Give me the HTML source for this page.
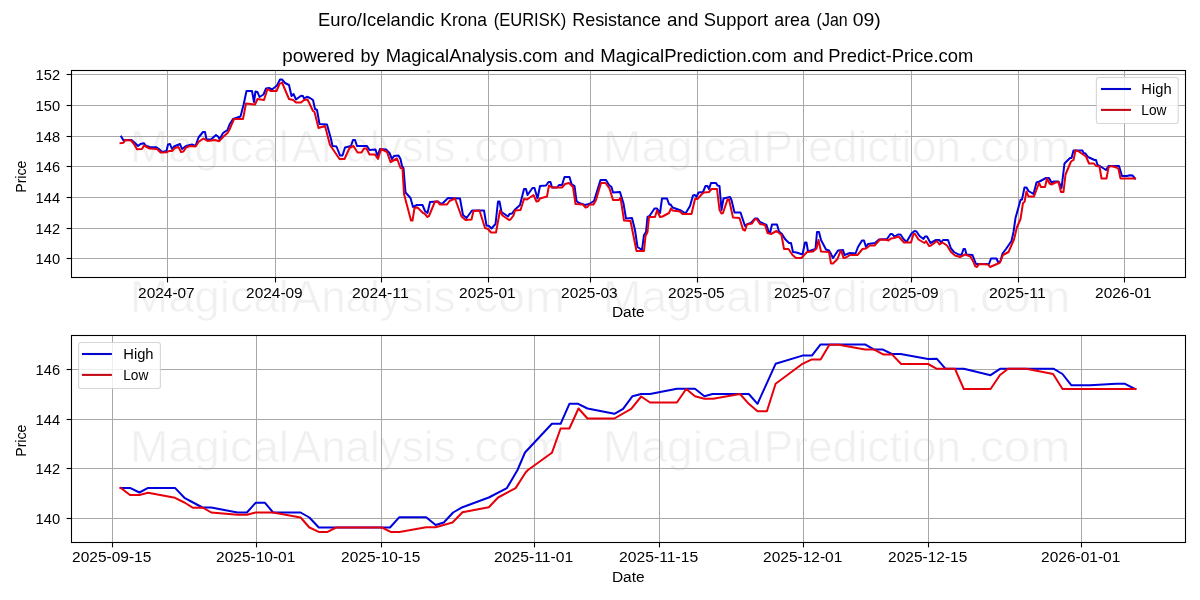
<!DOCTYPE html>
<html><head><meta charset="utf-8"><title>Euro/Icelandic Krona (EURISK) Resistance and Support area</title>
<style>html,body{margin:0;padding:0;background:#fff;}svg{display:block;will-change:transform;}text{font-family:"Liberation Sans",sans-serif;}</style></head><body>
<svg width="1200" height="600" viewBox="0 0 1200 600">
<rect x="0" y="0" width="1200" height="600" fill="#ffffff"/>
<text x="130.11" y="161.5" font-size="44.2" fill="#f0f0f0" stroke="#ffffff" stroke-width="0.6" textLength="158.97" lengthAdjust="spacingAndGlyphs">Magical</text>
<text x="291.83" y="161.5" font-size="44.2" fill="#f0f0f0" stroke="#ffffff" stroke-width="0.6" textLength="163.6" lengthAdjust="spacingAndGlyphs">Analysis</text>
<text x="460.78" y="161.5" font-size="44.2" fill="#f0f0f0" stroke="#ffffff" stroke-width="0.6" textLength="104.38" lengthAdjust="spacingAndGlyphs">.com</text>
<text x="602.97" y="161.5" font-size="44.2" fill="#f0f0f0" stroke="#ffffff" stroke-width="0.6" textLength="159.12" lengthAdjust="spacingAndGlyphs">Magical</text>
<text x="763.59" y="161.5" font-size="44.2" fill="#f0f0f0" stroke="#ffffff" stroke-width="0.6" textLength="197.48" lengthAdjust="spacingAndGlyphs">Prediction</text>
<text x="966.63" y="161.5" font-size="44.2" fill="#f0f0f0" stroke="#ffffff" stroke-width="0.6" textLength="103.78" lengthAdjust="spacingAndGlyphs">.com</text>
<text x="130.11" y="311.5" font-size="44.2" fill="#f0f0f0" stroke="#ffffff" stroke-width="0.6" textLength="158.97" lengthAdjust="spacingAndGlyphs">Magical</text>
<text x="291.83" y="311.5" font-size="44.2" fill="#f0f0f0" stroke="#ffffff" stroke-width="0.6" textLength="163.6" lengthAdjust="spacingAndGlyphs">Analysis</text>
<text x="460.78" y="311.5" font-size="44.2" fill="#f0f0f0" stroke="#ffffff" stroke-width="0.6" textLength="104.38" lengthAdjust="spacingAndGlyphs">.com</text>
<text x="602.97" y="311.5" font-size="44.2" fill="#f0f0f0" stroke="#ffffff" stroke-width="0.6" textLength="159.12" lengthAdjust="spacingAndGlyphs">Magical</text>
<text x="763.59" y="311.5" font-size="44.2" fill="#f0f0f0" stroke="#ffffff" stroke-width="0.6" textLength="197.48" lengthAdjust="spacingAndGlyphs">Prediction</text>
<text x="966.63" y="311.5" font-size="44.2" fill="#f0f0f0" stroke="#ffffff" stroke-width="0.6" textLength="103.78" lengthAdjust="spacingAndGlyphs">.com</text>
<text x="130.11" y="461.5" font-size="44.2" fill="#f0f0f0" stroke="#ffffff" stroke-width="0.6" textLength="158.97" lengthAdjust="spacingAndGlyphs">Magical</text>
<text x="291.83" y="461.5" font-size="44.2" fill="#f0f0f0" stroke="#ffffff" stroke-width="0.6" textLength="163.6" lengthAdjust="spacingAndGlyphs">Analysis</text>
<text x="460.78" y="461.5" font-size="44.2" fill="#f0f0f0" stroke="#ffffff" stroke-width="0.6" textLength="104.38" lengthAdjust="spacingAndGlyphs">.com</text>
<text x="602.97" y="461.5" font-size="44.2" fill="#f0f0f0" stroke="#ffffff" stroke-width="0.6" textLength="159.12" lengthAdjust="spacingAndGlyphs">Magical</text>
<text x="763.59" y="461.5" font-size="44.2" fill="#f0f0f0" stroke="#ffffff" stroke-width="0.6" textLength="197.48" lengthAdjust="spacingAndGlyphs">Prediction</text>
<text x="966.63" y="461.5" font-size="44.2" fill="#f0f0f0" stroke="#ffffff" stroke-width="0.6" textLength="103.78" lengthAdjust="spacingAndGlyphs">.com</text>
<line x1="167.50" y1="70.5" x2="167.50" y2="277.5" stroke="#a8a8a8" stroke-width="1"/>
<line x1="275.50" y1="70.5" x2="275.50" y2="277.5" stroke="#a8a8a8" stroke-width="1"/>
<line x1="381.50" y1="70.5" x2="381.50" y2="277.5" stroke="#a8a8a8" stroke-width="1"/>
<line x1="488.50" y1="70.5" x2="488.50" y2="277.5" stroke="#a8a8a8" stroke-width="1"/>
<line x1="590.50" y1="70.5" x2="590.50" y2="277.5" stroke="#a8a8a8" stroke-width="1"/>
<line x1="697.50" y1="70.5" x2="697.50" y2="277.5" stroke="#a8a8a8" stroke-width="1"/>
<line x1="803.50" y1="70.5" x2="803.50" y2="277.5" stroke="#a8a8a8" stroke-width="1"/>
<line x1="911.50" y1="70.5" x2="911.50" y2="277.5" stroke="#a8a8a8" stroke-width="1"/>
<line x1="1018.50" y1="70.5" x2="1018.50" y2="277.5" stroke="#a8a8a8" stroke-width="1"/>
<line x1="1124.50" y1="70.5" x2="1124.50" y2="277.5" stroke="#a8a8a8" stroke-width="1"/>
<line x1="71.5" y1="258.50" x2="1185.5" y2="258.50" stroke="#a8a8a8" stroke-width="1"/>
<line x1="71.5" y1="228.50" x2="1185.5" y2="228.50" stroke="#a8a8a8" stroke-width="1"/>
<line x1="71.5" y1="197.50" x2="1185.5" y2="197.50" stroke="#a8a8a8" stroke-width="1"/>
<line x1="71.5" y1="166.50" x2="1185.5" y2="166.50" stroke="#a8a8a8" stroke-width="1"/>
<line x1="71.5" y1="136.50" x2="1185.5" y2="136.50" stroke="#a8a8a8" stroke-width="1"/>
<line x1="71.5" y1="105.50" x2="1185.5" y2="105.50" stroke="#a8a8a8" stroke-width="1"/>
<line x1="71.5" y1="74.50" x2="1185.5" y2="74.50" stroke="#a8a8a8" stroke-width="1"/>
<clipPath id="c1"><rect x="71.5" y="70.5" width="1114.0" height="207.0"/></clipPath>
<g clip-path="url(#c1)" fill="none" stroke-width="2" stroke-linejoin="round" stroke-linecap="square">
<polyline points="121.2,136.5 123.5,140.5 128.0,140.0 131.5,140.0 135.0,143.0 138.0,146.0 140.5,144.0 144.0,143.2 145.5,145.5 149.5,147.0 156.0,147.2 159.0,149.0 162.0,152.0 166.5,151.0 168.0,144.5 170.0,144.0 172.0,149.0 174.0,146.5 180.0,144.0 182.0,149.0 186.0,146.0 192.0,144.5 195.5,146.0 198.5,137.5 203.0,132.0 205.0,132.0 206.5,139.5 211.0,139.5 216.0,135.0 218.5,137.0 219.5,139.5 223.0,133.0 227.5,130.0 229.5,124.5 233.0,119.0 240.5,116.5 243.5,105.0 246.5,91.0 252.0,91.0 254.0,102.0 255.5,91.5 257.5,92.0 259.5,97.0 263.5,94.5 266.0,88.5 269.0,88.0 272.0,89.5 277.0,85.5 280.0,79.5 282.0,79.5 285.0,83.0 289.0,85.0 291.5,96.0 293.5,94.0 296.0,99.5 301.0,95.8 303.0,96.0 304.0,98.5 307.0,96.8 310.0,98.0 313.0,100.0 315.0,109.0 317.0,110.0 319.5,124.0 327.0,124.5 331.0,139.0 332.5,146.0 336.5,146.5 340.0,155.5 342.5,155.5 345.0,147.5 351.0,146.0 353.0,140.0 355.0,140.0 357.0,146.0 367.0,146.0 369.5,150.0 375.5,149.5 377.5,156.0 380.0,149.0 386.0,149.5 389.5,153.0 392.0,159.0 394.0,156.0 398.5,155.5 400.5,159.0 402.0,166.0 403.5,168.0 405.5,192.5 410.5,198.0 413.0,207.0 417.0,205.0 422.5,205.0 425.0,211.0 427.5,213.0 430.0,202.0 438.0,201.5 441.0,204.0 443.0,203.0 448.0,198.0 460.0,198.5 463.0,215.0 466.5,218.0 472.0,210.5 484.0,210.5 486.5,225.5 489.0,226.0 491.5,228.5 495.5,224.0 498.0,201.5 499.5,201.5 501.5,212.0 508.0,216.5 509.5,214.0 512.0,213.5 514.5,210.0 520.0,205.0 524.0,189.0 526.0,189.0 527.5,195.0 532.5,188.0 534.5,188.0 537.5,198.5 540.0,186.0 546.0,185.5 548.5,182.0 550.5,182.0 552.0,187.5 557.0,187.5 559.0,185.0 562.0,185.0 564.5,177.0 569.5,177.0 571.5,184.0 574.5,186.0 576.5,201.0 579.0,203.0 585.0,205.0 589.0,204.0 594.0,201.0 600.5,180.0 606.0,180.0 609.0,185.0 611.5,187.0 613.0,192.5 620.0,192.0 623.5,203.5 626.0,218.5 632.0,218.0 635.0,230.0 637.5,247.0 642.0,250.0 644.0,235.0 646.0,232.0 647.5,217.0 649.5,216.0 654.5,208.5 657.0,208.5 660.0,213.0 662.0,198.5 667.0,198.5 669.0,204.0 671.0,205.0 672.5,207.5 681.0,210.5 685.5,213.5 690.0,206.0 693.0,195.5 695.0,195.0 696.5,197.0 698.5,192.5 703.0,192.0 705.5,186.0 707.5,186.0 709.0,189.0 711.0,183.0 716.0,183.0 717.5,185.5 719.5,186.0 721.5,210.0 723.5,198.5 730.0,197.0 731.5,200.0 734.5,212.5 740.5,212.5 745.0,226.0 747.5,224.0 751.0,223.0 755.0,218.5 757.5,218.5 760.0,222.0 766.5,225.0 769.0,233.0 770.0,233.0 772.0,224.5 777.0,224.5 779.0,231.5 782.0,234.0 785.0,239.0 789.0,243.0 791.0,243.0 793.0,252.0 796.5,252.5 802.5,254.5 805.0,242.5 806.5,242.5 808.0,251.5 811.0,250.5 815.5,249.0 817.0,232.0 819.0,232.0 821.0,240.0 826.0,249.5 829.0,250.5 830.5,253.0 833.0,258.0 838.0,250.5 843.0,250.0 844.5,255.0 850.0,253.0 855.5,253.5 858.0,247.0 862.0,240.5 864.0,240.5 866.0,247.0 868.0,244.0 875.0,243.0 879.0,239.5 887.0,239.0 890.5,234.0 892.0,234.0 894.5,236.5 898.0,234.5 900.5,234.5 903.5,239.0 906.5,242.0 911.5,233.5 914.5,231.0 916.5,231.5 919.5,236.0 923.5,239.0 925.0,236.5 927.0,236.5 930.5,243.0 936.0,240.0 939.5,240.0 941.0,242.5 943.0,240.0 948.0,240.0 951.0,248.5 954.0,252.0 958.5,254.5 961.5,255.0 963.5,249.0 965.0,249.0 966.5,254.5 972.5,255.0 976.0,264.0 989.0,264.0 991.0,258.5 996.5,258.5 998.5,263.0 1000.5,261.0 1002.5,253.5 1006.0,249.0 1011.5,241.0 1013.5,232.0 1015.5,218.0 1020.5,200.0 1022.0,199.5 1024.5,187.5 1026.5,187.5 1028.5,191.0 1033.5,194.0 1036.5,182.5 1039.5,181.5 1046.0,178.0 1049.0,178.0 1051.5,182.5 1054.0,181.5 1058.5,181.5 1061.5,188.0 1064.5,163.5 1070.0,158.0 1071.5,158.0 1073.5,150.5 1082.5,150.5 1083.5,153.0 1085.5,153.5 1088.0,157.0 1094.5,160.0 1096.0,160.0 1097.5,165.0 1100.5,166.5 1106.0,170.0 1108.5,166.0 1119.0,166.0 1122.0,176.0 1127.0,176.0 1130.0,175.3 1132.5,175.5 1135.0,178.5" stroke="#0000dc"/>
<polyline points="120.5,143.2 123.5,142.8 125.0,140.0 131.0,140.5 134.0,144.0 137.0,149.2 142.0,149.0 144.0,145.5 149.5,148.5 157.0,149.0 160.5,152.5 167.0,152.2 169.0,151.0 172.0,151.0 175.0,148.0 178.5,147.0 181.0,152.0 183.5,151.5 186.0,147.5 190.0,146.0 195.5,146.5 199.0,141.5 203.5,138.5 207.5,141.0 215.0,140.0 219.0,141.2 223.0,137.0 227.5,133.0 229.5,129.5 234.0,119.0 243.0,119.0 246.0,103.5 255.0,104.5 257.5,99.0 264.0,100.0 267.5,89.0 270.5,91.0 276.5,91.0 279.5,84.0 282.0,82.5 289.0,99.0 293.0,100.0 296.0,102.5 301.0,102.5 304.0,100.0 307.5,99.5 313.0,111.0 314.5,112.0 318.5,128.0 325.0,126.0 330.0,145.0 339.5,159.0 344.5,159.0 349.5,148.0 353.5,146.0 357.5,152.5 361.5,152.5 364.0,148.5 366.5,148.5 369.5,154.5 375.0,154.5 378.0,159.0 381.0,149.0 387.0,152.0 390.5,162.0 397.0,158.5 400.5,168.0 402.5,168.5 404.0,194.0 411.0,220.5 412.5,220.5 414.5,208.0 417.5,207.5 423.0,213.0 424.5,213.5 427.5,217.0 429.0,216.0 435.0,201.5 437.5,201.5 440.0,204.5 447.0,204.5 449.5,201.0 455.0,198.5 461.5,216.5 465.5,220.0 471.5,219.5 473.5,211.0 479.5,210.5 485.0,228.0 488.0,229.0 491.0,232.5 496.0,232.5 500.0,210.5 502.5,215.5 509.0,220.0 510.5,219.5 513.5,215.5 515.0,210.5 520.5,210.0 524.0,199.0 527.0,199.5 533.5,195.0 536.5,201.5 538.5,201.0 540.0,198.5 547.0,196.5 549.0,185.5 552.0,187.5 562.0,187.5 565.0,184.0 569.0,183.0 573.0,187.0 575.5,204.0 583.0,204.5 585.5,207.5 587.5,207.0 589.5,204.5 593.5,204.5 596.0,200.0 601.0,183.0 605.5,183.0 609.5,188.5 613.0,200.0 619.0,200.0 620.5,197.5 624.0,220.5 630.5,221.0 636.5,251.0 644.0,251.0 645.5,236.0 647.5,232.0 649.0,217.0 655.0,217.0 657.0,210.5 660.0,217.0 662.5,216.5 669.0,213.0 671.0,208.5 672.5,210.5 680.0,211.5 682.5,214.0 691.5,214.0 695.0,199.0 697.5,199.0 702.0,194.0 704.0,192.5 709.0,192.0 711.5,189.0 717.0,189.0 719.5,210.0 721.5,213.5 723.0,213.0 727.5,199.5 729.0,199.5 733.0,217.5 739.5,218.0 743.0,229.5 745.0,230.5 747.0,224.5 752.0,223.5 755.0,219.0 757.0,219.5 760.0,224.0 765.0,225.0 767.5,233.0 771.0,234.0 776.5,231.0 781.5,235.0 784.0,249.0 788.5,249.0 792.5,255.0 796.0,258.0 801.5,258.0 807.0,252.0 813.0,251.5 816.5,248.5 818.5,240.0 821.0,251.5 829.0,252.0 831.0,263.5 833.0,263.5 837.5,259.0 840.5,251.0 841.5,251.5 843.5,258.0 846.0,257.5 850.0,255.0 857.5,255.0 862.5,249.0 866.0,248.5 870.0,245.5 874.5,245.5 880.0,239.5 887.0,240.0 888.5,240.5 891.0,238.5 894.0,238.0 898.5,236.5 904.0,242.5 911.0,242.5 913.5,234.0 915.0,234.0 918.5,239.5 924.5,243.0 926.0,241.0 929.0,246.0 931.0,245.5 937.0,241.0 939.5,244.5 942.5,242.5 947.0,245.5 951.0,252.0 955.0,255.5 960.0,257.0 965.0,254.5 970.5,256.5 973.5,262.0 975.0,266.0 977.0,267.0 979.0,264.0 988.0,264.5 990.0,267.0 997.0,264.0 1000.0,262.5 1003.0,255.0 1008.5,252.0 1014.0,239.5 1017.0,227.0 1020.5,219.0 1023.0,203.0 1024.5,202.0 1026.5,191.5 1028.5,196.5 1034.0,196.5 1039.0,183.0 1041.0,187.0 1045.0,187.0 1047.0,178.5 1049.5,183.5 1051.5,184.5 1055.5,182.5 1058.5,182.0 1061.0,192.0 1063.5,192.0 1065.5,174.5 1071.0,161.5 1073.5,160.0 1075.5,150.5 1078.0,151.0 1086.0,156.5 1089.0,163.5 1094.0,163.5 1096.0,166.0 1099.5,166.5 1101.5,178.5 1106.5,178.5 1108.5,167.5 1111.0,166.0 1116.5,167.5 1118.5,169.0 1120.5,178.5 1135.0,178.5" stroke="#e6000c"/>
</g>
<rect x="71.5" y="70.5" width="1114.0" height="207.0" fill="none" stroke="#000" stroke-width="1.1"/>
<line x1="167.50" y1="277.5" x2="167.50" y2="282.4" stroke="#000" stroke-width="1.1"/>
<text x="138.10" y="297.7" font-size="14.7" fill="#000" textLength="56.6" lengthAdjust="spacingAndGlyphs">2024-07</text>
<line x1="275.50" y1="277.5" x2="275.50" y2="282.4" stroke="#000" stroke-width="1.1"/>
<text x="246.10" y="297.7" font-size="14.7" fill="#000" textLength="56.6" lengthAdjust="spacingAndGlyphs">2024-09</text>
<line x1="381.50" y1="277.5" x2="381.50" y2="282.4" stroke="#000" stroke-width="1.1"/>
<text x="352.10" y="297.7" font-size="14.7" fill="#000" textLength="56.6" lengthAdjust="spacingAndGlyphs">2024-11</text>
<line x1="488.50" y1="277.5" x2="488.50" y2="282.4" stroke="#000" stroke-width="1.1"/>
<text x="459.10" y="297.7" font-size="14.7" fill="#000" textLength="56.6" lengthAdjust="spacingAndGlyphs">2025-01</text>
<line x1="590.50" y1="277.5" x2="590.50" y2="282.4" stroke="#000" stroke-width="1.1"/>
<text x="561.10" y="297.7" font-size="14.7" fill="#000" textLength="56.6" lengthAdjust="spacingAndGlyphs">2025-03</text>
<line x1="697.50" y1="277.5" x2="697.50" y2="282.4" stroke="#000" stroke-width="1.1"/>
<text x="668.10" y="297.7" font-size="14.7" fill="#000" textLength="56.6" lengthAdjust="spacingAndGlyphs">2025-05</text>
<line x1="803.50" y1="277.5" x2="803.50" y2="282.4" stroke="#000" stroke-width="1.1"/>
<text x="774.10" y="297.7" font-size="14.7" fill="#000" textLength="56.6" lengthAdjust="spacingAndGlyphs">2025-07</text>
<line x1="911.50" y1="277.5" x2="911.50" y2="282.4" stroke="#000" stroke-width="1.1"/>
<text x="882.10" y="297.7" font-size="14.7" fill="#000" textLength="56.6" lengthAdjust="spacingAndGlyphs">2025-09</text>
<line x1="1018.50" y1="277.5" x2="1018.50" y2="282.4" stroke="#000" stroke-width="1.1"/>
<text x="989.10" y="297.7" font-size="14.7" fill="#000" textLength="56.6" lengthAdjust="spacingAndGlyphs">2025-11</text>
<line x1="1124.50" y1="277.5" x2="1124.50" y2="282.4" stroke="#000" stroke-width="1.1"/>
<text x="1095.10" y="297.7" font-size="14.7" fill="#000" textLength="56.6" lengthAdjust="spacingAndGlyphs">2026-01</text>
<line x1="66.6" y1="258.50" x2="71.5" y2="258.50" stroke="#000" stroke-width="1.1"/>
<text x="35.6" y="263.50" font-size="14.7" fill="#000" textLength="24.5" lengthAdjust="spacingAndGlyphs">140</text>
<line x1="66.6" y1="228.50" x2="71.5" y2="228.50" stroke="#000" stroke-width="1.1"/>
<text x="35.6" y="233.50" font-size="14.7" fill="#000" textLength="24.5" lengthAdjust="spacingAndGlyphs">142</text>
<line x1="66.6" y1="197.50" x2="71.5" y2="197.50" stroke="#000" stroke-width="1.1"/>
<text x="35.6" y="202.50" font-size="14.7" fill="#000" textLength="24.5" lengthAdjust="spacingAndGlyphs">144</text>
<line x1="66.6" y1="166.50" x2="71.5" y2="166.50" stroke="#000" stroke-width="1.1"/>
<text x="35.6" y="171.50" font-size="14.7" fill="#000" textLength="24.5" lengthAdjust="spacingAndGlyphs">146</text>
<line x1="66.6" y1="136.50" x2="71.5" y2="136.50" stroke="#000" stroke-width="1.1"/>
<text x="35.6" y="141.50" font-size="14.7" fill="#000" textLength="24.5" lengthAdjust="spacingAndGlyphs">148</text>
<line x1="66.6" y1="105.50" x2="71.5" y2="105.50" stroke="#000" stroke-width="1.1"/>
<text x="35.6" y="110.50" font-size="14.7" fill="#000" textLength="24.5" lengthAdjust="spacingAndGlyphs">150</text>
<line x1="66.6" y1="74.50" x2="71.5" y2="74.50" stroke="#000" stroke-width="1.1"/>
<text x="35.6" y="79.50" font-size="14.7" fill="#000" textLength="24.5" lengthAdjust="spacingAndGlyphs">152</text>
<text x="611.9" y="316.6" font-size="14.7" fill="#000" textLength="32.7" lengthAdjust="spacingAndGlyphs">Date</text>
<text transform="translate(26.3,192.8) rotate(-90)" font-size="14.7" fill="#000" textLength="32.2" lengthAdjust="spacingAndGlyphs">Price</text>
<rect x="1096.4" y="77.5" width="81.8" height="46" rx="2.5" ry="2.5" fill="#ffffff" fill-opacity="0.8" stroke="#cccccc" stroke-opacity="0.8" stroke-width="1.1"/>
<line x1="1101" y1="89.0" x2="1131" y2="89.0" stroke="#0404cc" stroke-width="2.08"/>
<line x1="1101" y1="109.9" x2="1131" y2="109.9" stroke="#c40814" stroke-width="2.08"/>
<text x="1141.30" y="93.60" font-size="14.7" fill="#000" textLength="30.3" lengthAdjust="spacingAndGlyphs">High</text>
<text x="1141.28" y="114.70" font-size="14.7" fill="#000" textLength="25.2" lengthAdjust="spacingAndGlyphs">Low</text>
<line x1="112.50" y1="335.5" x2="112.50" y2="542.5" stroke="#a8a8a8" stroke-width="1"/>
<line x1="256.50" y1="335.5" x2="256.50" y2="542.5" stroke="#a8a8a8" stroke-width="1"/>
<line x1="381.50" y1="335.5" x2="381.50" y2="542.5" stroke="#a8a8a8" stroke-width="1"/>
<line x1="534.50" y1="335.5" x2="534.50" y2="542.5" stroke="#a8a8a8" stroke-width="1"/>
<line x1="659.50" y1="335.5" x2="659.50" y2="542.5" stroke="#a8a8a8" stroke-width="1"/>
<line x1="803.50" y1="335.5" x2="803.50" y2="542.5" stroke="#a8a8a8" stroke-width="1"/>
<line x1="928.50" y1="335.5" x2="928.50" y2="542.5" stroke="#a8a8a8" stroke-width="1"/>
<line x1="1081.50" y1="335.5" x2="1081.50" y2="542.5" stroke="#a8a8a8" stroke-width="1"/>
<line x1="71.5" y1="518.50" x2="1185.5" y2="518.50" stroke="#a8a8a8" stroke-width="1"/>
<line x1="71.5" y1="468.50" x2="1185.5" y2="468.50" stroke="#a8a8a8" stroke-width="1"/>
<line x1="71.5" y1="419.50" x2="1185.5" y2="419.50" stroke="#a8a8a8" stroke-width="1"/>
<line x1="71.5" y1="369.50" x2="1185.5" y2="369.50" stroke="#a8a8a8" stroke-width="1"/>
<clipPath id="c2"><rect x="71.5" y="335.5" width="1114.0" height="207.0"/></clipPath>
<g clip-path="url(#c2)" fill="none" stroke-width="2" stroke-linejoin="round" stroke-linecap="square">
<polyline points="120.6,487.9 130.0,487.9 139.4,492.5 148.1,487.9 175.0,487.9 184.4,497.8 193.1,502.5 202.5,507.5 211.2,507.5 237.5,512.5 246.9,512.5 255.6,502.8 265.0,502.8 273.1,512.5 300.6,512.5 309.4,517.5 318.8,527.5 390.0,527.5 399.4,517.2 426.2,517.2 435.6,525.0 443.8,522.5 453.1,512.5 462.5,507.2 488.8,497.5 506.9,488.1 517.5,470.0 525.0,452.5 551.9,423.8 560.6,423.8 569.4,403.8 578.1,403.8 587.5,408.5 614.4,413.8 623.1,408.8 632.5,396.2 641.2,394.0 650.0,394.0 676.9,388.8 695.0,388.8 704.4,396.2 712.5,394.0 748.8,394.0 757.5,403.8 775.6,363.8 802.5,355.6 811.9,355.6 820.6,344.4 865.0,344.4 873.8,349.4 882.5,349.4 891.9,354.0 900.6,354.0 928.1,359.0 936.9,358.8 945.6,368.8 963.8,368.8 990.6,375.2 1000.0,368.8 1053.8,368.8 1062.5,374.0 1071.2,385.2 1090.0,385.2 1116.2,383.8 1125.0,383.8 1135.0,389.0" stroke="#0000dc"/>
<polyline points="120.6,487.9 130.0,495.0 139.4,495.0 148.1,492.8 175.0,497.8 184.4,502.5 193.1,507.8 202.5,507.5 211.2,512.5 237.5,514.8 246.9,514.8 255.6,512.5 273.1,512.5 300.6,517.5 309.4,527.5 318.8,531.9 327.5,531.9 336.2,527.5 381.9,527.5 390.6,531.9 399.4,531.9 426.2,527.2 435.6,527.2 452.5,522.5 462.5,512.2 488.8,507.2 498.1,497.5 515.6,488.1 525.6,472.5 528.0,470.0 551.9,452.8 560.6,428.5 569.4,428.5 578.5,408.5 587.5,418.5 614.4,418.5 631.2,408.8 641.2,396.5 650.0,402.5 676.9,402.5 686.2,389.0 695.0,396.2 704.4,398.8 713.1,398.8 740.0,394.0 748.8,403.8 757.5,411.2 766.9,411.2 775.6,383.8 802.5,363.8 811.9,359.4 820.6,359.4 829.4,344.8 838.8,344.8 865.0,349.4 873.8,349.4 883.1,354.4 891.9,354.4 901.2,364.0 928.1,364.0 936.9,368.8 955.0,368.8 963.8,389.0 990.6,389.0 1000.0,375.0 1008.1,368.8 1026.2,368.8 1053.1,374.0 1062.5,389.0 1135.6,389.0" stroke="#e6000c"/>
</g>
<rect x="71.5" y="335.5" width="1114.0" height="207.0" fill="none" stroke="#000" stroke-width="1.1"/>
<line x1="112.50" y1="542.5" x2="112.50" y2="547.4" stroke="#000" stroke-width="1.1"/>
<text x="72.10" y="562" font-size="14.7" fill="#000" textLength="79.2" lengthAdjust="spacingAndGlyphs">2025-09-15</text>
<line x1="256.50" y1="542.5" x2="256.50" y2="547.4" stroke="#000" stroke-width="1.1"/>
<text x="216.10" y="562" font-size="14.7" fill="#000" textLength="79.2" lengthAdjust="spacingAndGlyphs">2025-10-01</text>
<line x1="381.50" y1="542.5" x2="381.50" y2="547.4" stroke="#000" stroke-width="1.1"/>
<text x="341.10" y="562" font-size="14.7" fill="#000" textLength="79.2" lengthAdjust="spacingAndGlyphs">2025-10-15</text>
<line x1="534.50" y1="542.5" x2="534.50" y2="547.4" stroke="#000" stroke-width="1.1"/>
<text x="494.10" y="562" font-size="14.7" fill="#000" textLength="79.2" lengthAdjust="spacingAndGlyphs">2025-11-01</text>
<line x1="659.50" y1="542.5" x2="659.50" y2="547.4" stroke="#000" stroke-width="1.1"/>
<text x="619.10" y="562" font-size="14.7" fill="#000" textLength="79.2" lengthAdjust="spacingAndGlyphs">2025-11-15</text>
<line x1="803.50" y1="542.5" x2="803.50" y2="547.4" stroke="#000" stroke-width="1.1"/>
<text x="763.10" y="562" font-size="14.7" fill="#000" textLength="79.2" lengthAdjust="spacingAndGlyphs">2025-12-01</text>
<line x1="928.50" y1="542.5" x2="928.50" y2="547.4" stroke="#000" stroke-width="1.1"/>
<text x="888.10" y="562" font-size="14.7" fill="#000" textLength="79.2" lengthAdjust="spacingAndGlyphs">2025-12-15</text>
<line x1="1081.50" y1="542.5" x2="1081.50" y2="547.4" stroke="#000" stroke-width="1.1"/>
<text x="1041.10" y="562" font-size="14.7" fill="#000" textLength="79.2" lengthAdjust="spacingAndGlyphs">2026-01-01</text>
<line x1="66.6" y1="518.50" x2="71.5" y2="518.50" stroke="#000" stroke-width="1.1"/>
<text x="35.6" y="523.50" font-size="14.7" fill="#000" textLength="24.5" lengthAdjust="spacingAndGlyphs">140</text>
<line x1="66.6" y1="468.50" x2="71.5" y2="468.50" stroke="#000" stroke-width="1.1"/>
<text x="35.6" y="473.50" font-size="14.7" fill="#000" textLength="24.5" lengthAdjust="spacingAndGlyphs">142</text>
<line x1="66.6" y1="419.50" x2="71.5" y2="419.50" stroke="#000" stroke-width="1.1"/>
<text x="35.6" y="424.50" font-size="14.7" fill="#000" textLength="24.5" lengthAdjust="spacingAndGlyphs">144</text>
<line x1="66.6" y1="369.50" x2="71.5" y2="369.50" stroke="#000" stroke-width="1.1"/>
<text x="35.6" y="374.50" font-size="14.7" fill="#000" textLength="24.5" lengthAdjust="spacingAndGlyphs">146</text>
<text x="611.9" y="581.7" font-size="14.7" fill="#000" textLength="32.7" lengthAdjust="spacingAndGlyphs">Date</text>
<text transform="translate(26.3,456.8) rotate(-90)" font-size="14.7" fill="#000" textLength="32.2" lengthAdjust="spacingAndGlyphs">Price</text>
<rect x="78.6" y="342.5" width="81.8" height="46" rx="2.5" ry="2.5" fill="#ffffff" fill-opacity="0.8" stroke="#cccccc" stroke-opacity="0.8" stroke-width="1.1"/>
<line x1="81.9" y1="354.0" x2="111.9" y2="354.0" stroke="#0404cc" stroke-width="2.08"/>
<line x1="81.9" y1="374.9" x2="111.9" y2="374.9" stroke="#c40814" stroke-width="2.08"/>
<text x="123.25" y="358.60" font-size="14.7" fill="#000" textLength="30.3" lengthAdjust="spacingAndGlyphs">High</text>
<text x="123.23" y="379.70" font-size="14.7" fill="#000" textLength="25.2" lengthAdjust="spacingAndGlyphs">Low</text>
<text x="318.07" y="25.5" font-size="17.7" fill="#000" textLength="116.37" lengthAdjust="spacingAndGlyphs">Euro/Icelandic</text>
<text x="440.36" y="25.5" font-size="17.7" fill="#000" textLength="46.64" lengthAdjust="spacingAndGlyphs">Krona</text>
<text x="493.77" y="25.5" font-size="17.7" fill="#000" textLength="72.47" lengthAdjust="spacingAndGlyphs">(EURISK)</text>
<text x="572.2" y="25.5" font-size="17.7" fill="#000" textLength="88.8" lengthAdjust="spacingAndGlyphs">Resistance</text>
<text x="667.01" y="25.5" font-size="17.7" fill="#000" textLength="31.35" lengthAdjust="spacingAndGlyphs">and</text>
<text x="703.84" y="25.5" font-size="17.7" fill="#000" textLength="64.27" lengthAdjust="spacingAndGlyphs">Support</text>
<text x="774.34" y="25.5" font-size="17.7" fill="#000" textLength="35.41" lengthAdjust="spacingAndGlyphs">area</text>
<text x="816.62" y="25.5" font-size="17.7" fill="#000" textLength="31.07" lengthAdjust="spacingAndGlyphs">(Jan</text>
<text x="852.74" y="25.5" font-size="17.7" fill="#000" textLength="28.13" lengthAdjust="spacingAndGlyphs">09)</text>
<text x="282.32" y="61.5" font-size="17.7" fill="#000" textLength="72.17" lengthAdjust="spacingAndGlyphs">powered</text>
<text x="360.47" y="61.5" font-size="17.7" fill="#000" textLength="18.99" lengthAdjust="spacingAndGlyphs">by</text>
<text x="385.72" y="61.5" font-size="17.7" fill="#000" textLength="171.81" lengthAdjust="spacingAndGlyphs">MagicalAnalysis.com</text>
<text x="564.06" y="61.5" font-size="17.7" fill="#000" textLength="30.47" lengthAdjust="spacingAndGlyphs">and</text>
<text x="600.24" y="61.5" font-size="17.7" fill="#000" textLength="186.59" lengthAdjust="spacingAndGlyphs">MagicalPrediction.com</text>
<text x="793.13" y="61.5" font-size="17.7" fill="#000" textLength="30.48" lengthAdjust="spacingAndGlyphs">and</text>
<text x="828.36" y="61.5" font-size="17.7" fill="#000" textLength="144.92" lengthAdjust="spacingAndGlyphs">Predict-Price.com</text>
</svg></body></html>
